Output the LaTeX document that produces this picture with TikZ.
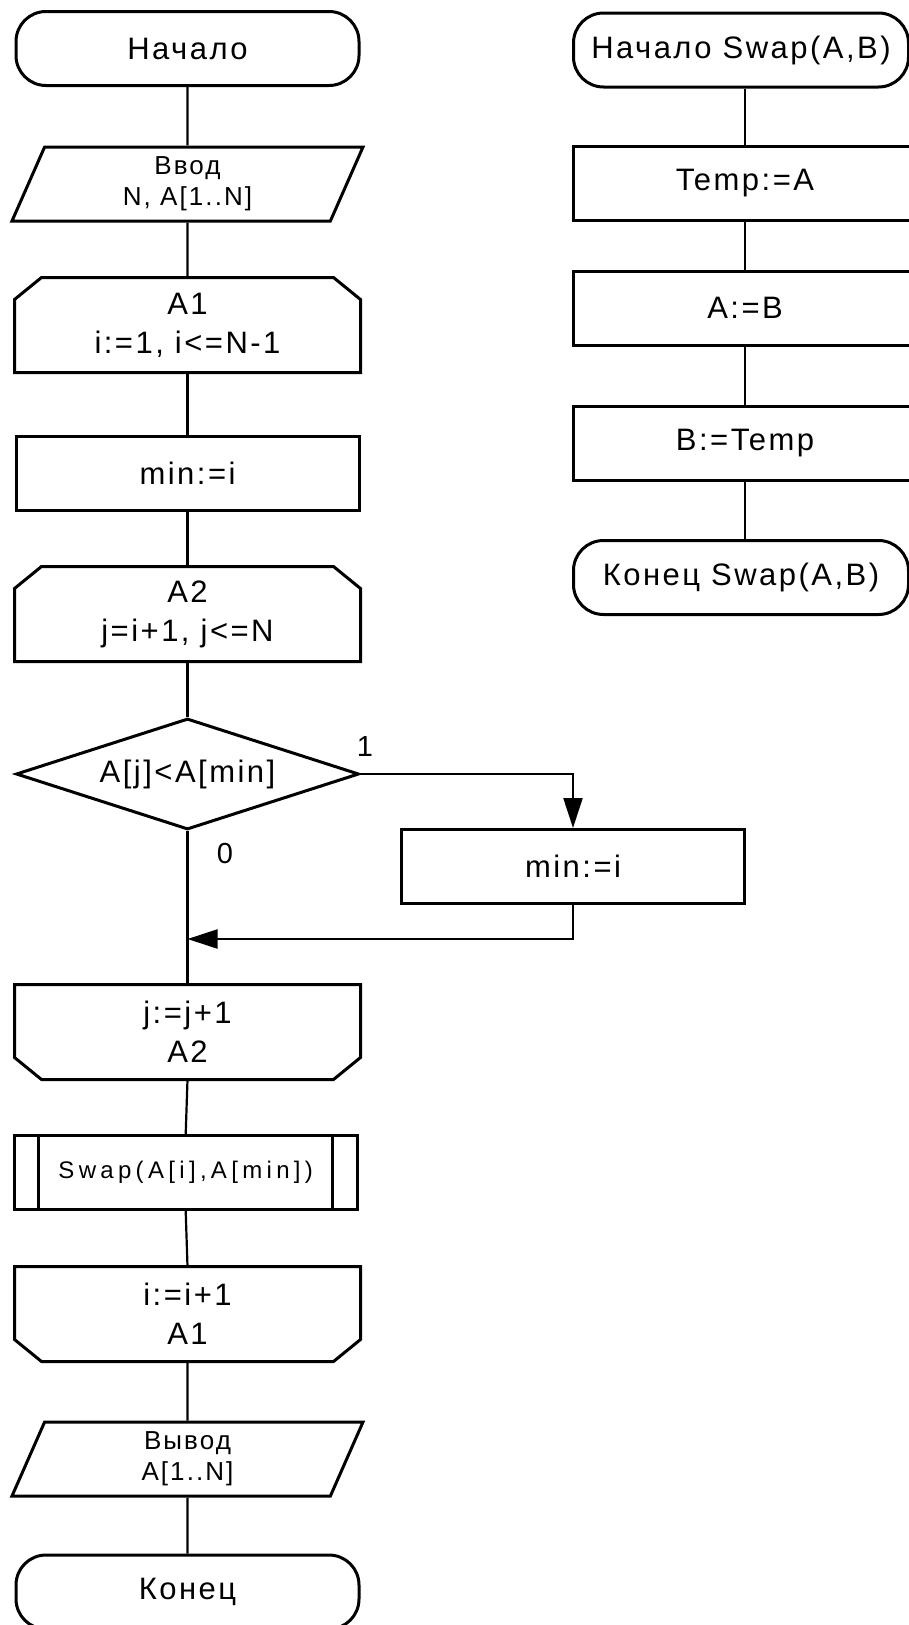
\documentclass[tikz,border=0pt]{standalone}
\usepackage{fontspec}
\setmainfont{Liberation Sans}[LetterSpace=8]
\usetikzlibrary{positioning, arrows.meta, shapes.geometric}

\tikzset{
  blk/.style={draw, line width=3pt, minimum width=343pt, minimum height=74pt, inner sep=0pt, align=center, font=\fontsize{31}{39}\selectfont},
  term/.style={blk, rounded corners=30pt},
  proc/.style={blk},
  io/.style={blk, trapezium, trapezium left angle=59, trapezium right angle=121, trapezium stretches body, minimum width=351pt, font=\fontsize{26}{31}\selectfont},
  loopbox/.style={blk, draw=none, minimum height=92pt},
  cond/.style={blk, diamond, aspect=3.1, minimum height=111pt},
  lbl/.style={inner sep=0pt, font=\fontsize{29}{32}\selectfont},
  line/.style={line width=2.2pt},
  arrow/.style={line, -{Triangle[length=30pt,width=19pt]}}
}
% loop limit outlines: cut corners on top (begin) or bottom (end)
\newcommand{\loopbeg}[1]{\draw[line width=3pt] ([xshift=27pt]#1.north west) -- ([xshift=-27pt]#1.north east) -- ([yshift=-22pt]#1.north east) -- (#1.south east) -- (#1.south west) -- ([yshift=-22pt]#1.north west) -- cycle;}
\newcommand{\loopend}[1]{\draw[line width=3pt] (#1.north west) -- (#1.north east) -- ([yshift=22pt]#1.south east) -- ([xshift=-27pt]#1.south east) -- ([xshift=27pt]#1.south west) -- ([yshift=22pt]#1.south west) -- cycle;}

\begin{document}
\begin{tikzpicture}[x=1pt, y=-1pt]
\useasboundingbox (0,0) rectangle (909,1625);

% main program
\node[term] (start) at (187.5,48.5) {Начало};
\node[io] (input) at (187.5,184) {Ввод\\N, A[1..N]};
\node[loopbox] (loopa) at (187.5,325) {A1\\i:=1, i<=N-1};
\loopbeg{loopa}
\node[proc] (minset) at (187.5,473) {min:=i};
\node[loopbox] (loopb) at (187.5,614) {A2\\j=i+1, j<=N};
\loopbeg{loopb}
\node[cond] (test) at (187.5,774) {A[j]<A[min]};
\node[proc] (minnew) at (573,866.5) {min:=i};
\coordinate (merge) at (187.5,939);
\node[loopbox] (loopbend) at (187.5,1032) {j:=j+1\\A2};
\loopend{loopbend}
\node[proc, font=\fontsize{24}{30}\selectfont\addfontfeatures{LetterSpace=18}] (swap) at (185.7,1172.5) {Swap(A[i],A[min])};
\draw[line width=3pt] ([xshift=26pt]swap.north west) -- ([xshift=26pt]swap.south west);
\draw[line width=3pt] ([xshift=-26pt]swap.north east) -- ([xshift=-26pt]swap.south east);
\node[loopbox] (loopaend) at (187.5,1314) {i:=i+1\\A1};
\loopend{loopaend}
\node[io] (output) at (187.5,1459) {Вывод\\A[1..N]};
\node[term] (stop) at (187.5,1592) {Конец};

\node[lbl] (yes) at (365,747) {1};
\node[lbl] (no) at (225,854) {0};

\draw[line] (start.south) -- (input.north);
\draw[line] (input.south) -- (loopa.north);
\draw[line] (loopa.south) -- (minset.north);
\draw[line] (minset.south) -- (loopb.north);
\draw[line] (loopb.south) -- (test.north);
\draw[line] (test.south) -- (loopbend.north);
\draw[arrow] (test.east) -| (minnew.north);
\draw[arrow] (minnew.south) |- (merge);
\draw[line] (loopbend.south) -- (swap.north);
\draw[line] (swap.south) -- (loopaend.north);
\draw[line] (loopaend.south) -- (output.north);
\draw[line] (output.south) -- (stop.north);

% procedure Swap
\node[term, minimum width=335pt] (sstart) at (741,50) {Начало Swap(A,B)};
\node[proc] (tmpset) at (745,183.5) {Temp:=A};
\node[proc] (aset) at (745,308) {A:=B};
\node[proc] (bset) at (745,443) {B:=Temp};
\node[term, minimum width=335pt] (sstop) at (741,577.5) {Конец Swap(A,B)};

\draw[line] (sstart.south -| tmpset.north) -- (tmpset.north);
\draw[line] (tmpset.south) -- (aset.north);
\draw[line] (aset.south) -- (bset.north);
\draw[line] (bset.south) -- (sstop.north -| bset.south);
\end{tikzpicture}
\end{document}
